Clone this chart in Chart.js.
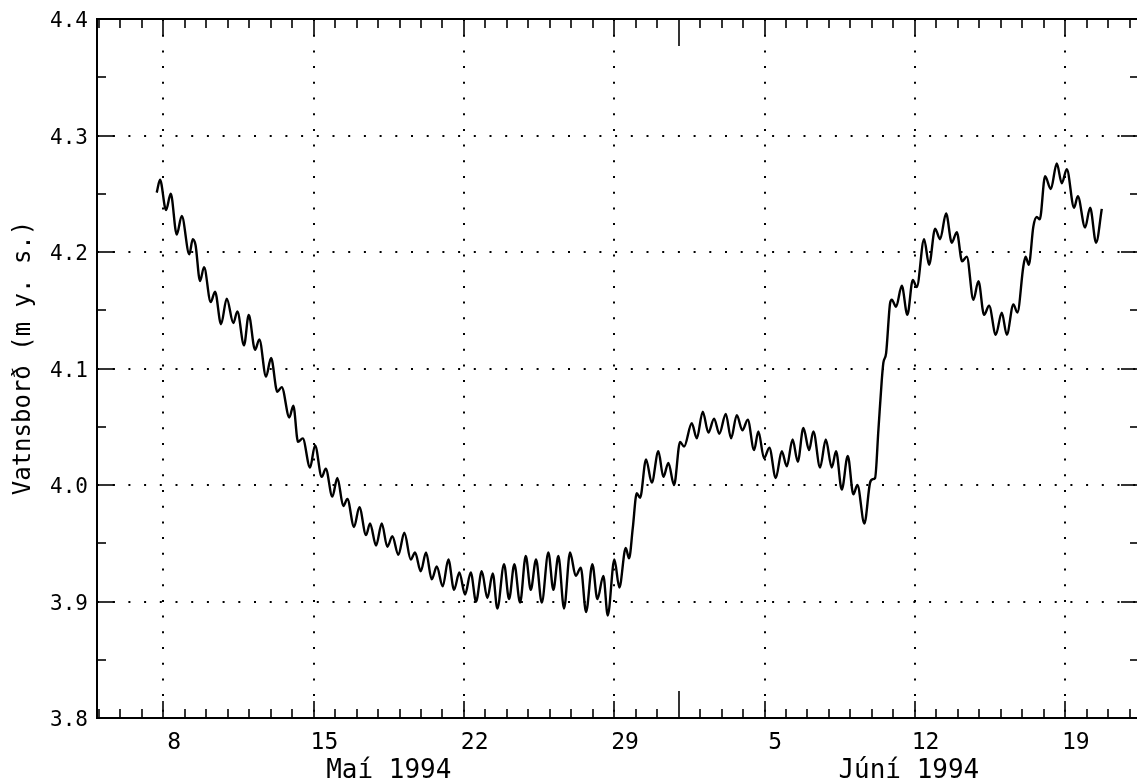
<!DOCTYPE html>
<html><head><meta charset="utf-8">
<script src="https://cdn.jsdelivr.net/npm/chart.js@4.4.1/dist/chart.umd.min.js"></script>
<style>
html,body{margin:0;padding:0;background:#fff;overflow:hidden;width:1137px;height:781px}
#wrap{position:absolute;left:0;top:0;width:1150px;height:781px}
</style>
</head><body><div id="wrap"><canvas id="c" width="1150" height="781"></canvas></div>
<script>
// Time in days since 1994-05-05 00:00, water level in m a.s.l.
const sampleDays = [
2.692,2.846,3.125,3.344,3.624,3.857,4.211,4.369,4.499,4.709,4.895,5.207,5.408,5.687,5.953,6.260,6.446,6.758,6.977,7.271,
7.471,7.783,8.016,8.309,8.514,8.868,9.054,9.273,9.492,9.832,10.065,10.377,10.564,10.871,11.104,11.383,11.570,11.882,12.129,12.441,
12.627,12.907,13.172,13.433,13.666,13.945,14.224,14.523,14.723,14.989,15.235,15.501,15.734,16.013,16.274,16.540,16.786,17.052,17.317,17.564,
17.830,18.090,18.342,18.556,18.868,19.101,19.348,19.614,19.879,20.112,20.359,20.624,20.932,21.165,21.397,21.663,21.942,22.208,22.441,22.688,
22.981,23.214,23.493,23.698,24.006,24.238,24.536,24.691,24.863,25.049,25.203,25.482,25.748,26.055,26.288,26.521,26.786,27.066,27.252,27.611,
27.844,28.123,28.384,28.650,28.896,29.194,29.441,29.707,29.968,30.219,30.512,30.713,30.978,31.225,31.523,31.803,32.036,32.306,32.548,32.809,
33.074,33.274,33.586,33.852,34.131,34.331,34.597,34.877,35.137,35.324,35.650,35.915,36.041,36.148,36.302,36.460,36.535,36.661,36.847,36.926,
37.126,37.392,37.653,37.904,38.091,38.431,38.664,38.944,39.176,39.456,39.721,39.954,40.201,40.419,40.727,40.962,41.225,41.458,41.770,42.049,
42.282,42.590,42.776,43.056,43.158,43.307,43.521,43.680,43.819,44.066,44.332,44.611,44.844,45.077,45.417,45.589,45.930,46.163,46.442,46.707
];
const waterLevel = [
4.251,4.262,4.236,4.250,4.215,4.231,4.198,4.211,4.206,4.175,4.187,4.157,4.166,4.138,4.160,4.139,4.149,4.120,4.146,4.116,
4.125,4.093,4.109,4.080,4.084,4.058,4.068,4.037,4.040,4.015,4.034,4.007,4.014,3.990,4.006,3.982,3.988,3.964,3.981,3.957,
3.967,3.948,3.967,3.947,3.956,3.940,3.959,3.936,3.942,3.926,3.942,3.919,3.930,3.913,3.936,3.910,3.925,3.906,3.925,3.900,
3.926,3.903,3.924,3.894,3.932,3.902,3.932,3.899,3.939,3.910,3.936,3.899,3.942,3.910,3.939,3.894,3.942,3.922,3.929,3.891,
3.932,3.902,3.922,3.888,3.936,3.912,3.946,3.937,3.963,3.993,3.989,4.022,4.002,4.029,4.007,4.019,4.000,4.037,4.033,4.053,
4.040,4.063,4.045,4.057,4.044,4.061,4.040,4.060,4.047,4.056,4.030,4.046,4.023,4.032,4.006,4.029,4.016,4.039,4.020,4.049,
4.030,4.046,4.015,4.039,4.015,4.029,3.996,4.025,3.992,4.000,3.967,4.002,4.005,4.006,4.047,4.090,4.105,4.113,4.156,4.159,
4.153,4.171,4.146,4.176,4.170,4.211,4.189,4.220,4.211,4.233,4.208,4.217,4.192,4.196,4.159,4.175,4.146,4.154,4.129,4.148,
4.129,4.155,4.148,4.188,4.196,4.189,4.222,4.230,4.228,4.265,4.254,4.276,4.259,4.271,4.238,4.248,4.221,4.238,4.208,4.237
];

const xAxisMin = -0.09, xAxisMax = 48.44;
const yAxisMin = 3.8, yAxisMax = 4.4;
const weekDays = [3, 10, 17, 24, 31, 38, 45];
const weekLabels = ['8', '15', '22', '29', '5', '12', '19'];
const monthStartDays = [0, 27];
const monthLabels = ['Maí 1994', 'Júní 1994'];
const yGridValues = [3.9, 4.0, 4.1, 4.2, 4.3];
const yLabelValues = [3.8, 3.9, 4.0, 4.1, 4.2, 4.3, 4.4];
const yMinorTickValues = [3.85, 3.95, 4.05, 4.15, 4.25, 4.35];
const yTitle = 'Vatnsborð (m y. s.)';

const FONT = '"DejaVu Sans Mono", monospace';

const framePlugin = {
  id: 'frame',
  afterDraw(chart) {
    const {ctx, chartArea: a, scales: {x, y}} = chart;
    ctx.save();
    ctx.strokeStyle = '#000';
    ctx.fillStyle = '#000';
    const seg = (x1, y1, x2, y2) => { ctx.beginPath(); ctx.moveTo(x1, y1); ctx.lineTo(x2, y2); ctx.stroke(); };
    // frame
    ctx.lineWidth = 2;
    ctx.strokeRect(a.left, a.top, a.right - a.left, a.bottom - a.top);
    // x ticks (daily, weekly, month)
    ctx.lineWidth = 1.6;
    for (let d = Math.ceil(xAxisMin); d <= Math.floor(xAxisMax); d++) {
      const px = Math.round(x.getPixelForValue(d));
      let len = weekDays.includes(d) ? 17 : 9;
      if (monthStartDays.includes(d) && d > 0) len = 27;
      seg(px, a.bottom, px, a.bottom - len);
      seg(px, a.top, px, a.top + len);
    }
    // y ticks
    for (const v of yLabelValues) {
      const py = Math.round(y.getPixelForValue(v));
      seg(a.left, py, a.left + 18, py);
      seg(a.right, py, a.right - 18, py);
    }
    for (const v of yMinorTickValues) {
      const py = Math.round(y.getPixelForValue(v));
      seg(a.left, py, a.left + 9, py);
      seg(a.right, py, a.right - 9, py);
    }
    // x labels
    ctx.font = '23px ' + FONT;
    ctx.textAlign = 'center';
    ctx.textBaseline = 'alphabetic';
    weekDays.forEach((d, i) => ctx.fillText(weekLabels[i], x.getPixelForValue(d + 0.5), 749));
    ctx.font = '26px ' + FONT;
    monthLabels.forEach((lab, i) => {
      const s = monthStartDays[i];
      const e = i + 1 < monthStartDays.length ? monthStartDays[i + 1] : xAxisMax;
      ctx.fillText(lab, x.getPixelForValue((s + e) / 2), 778);
    });
    // y labels
    ctx.font = '21px ' + FONT;
    ctx.textAlign = 'right';
    for (const v of yLabelValues) {
      ctx.fillText(v.toFixed(1), 88, y.getPixelForValue(v) + 8);
    }
    // y title
    ctx.font = '24px ' + FONT;
    ctx.translate(30, 358);
    ctx.rotate(-Math.PI / 2);
    ctx.textAlign = 'center';
    ctx.fillText(yTitle, 0, 0);
    ctx.restore();
  }
};

const points = sampleDays.map((d, i) => ({x: d, y: waterLevel[i]}));

new Chart(document.getElementById('c').getContext('2d'), {
  type: 'line',
  data: {datasets: [{
    data: points, borderColor: '#000', borderWidth: 2.4, pointRadius: 0,
    cubicInterpolationMode: 'monotone', fill: false
  }]},
  options: {
    responsive: false, animation: false, devicePixelRatio: 1,
    layout: {padding: {top: 19, right: 11, left: 0, bottom: 0}},
    plugins: {legend: {display: false}, tooltip: {enabled: false}},
    scales: {
      x: {
        type: 'linear', min: xAxisMin, max: xAxisMax,
        afterBuildTicks: s => { s.ticks = weekDays.map(v => ({value: v})); },
        afterFit: s => { s.height = 63; },
        ticks: {display: false},
        grid: {color: '#000', lineWidth: 2, drawTicks: false},
        border: {display: false, dash: [2, 13.7]}
      },
      y: {
        type: 'linear', min: yAxisMin, max: yAxisMax,
        afterBuildTicks: s => { s.ticks = yGridValues.map(v => ({value: v})); },
        afterFit: s => { s.width = 97; },
        ticks: {display: false},
        grid: {color: '#000', lineWidth: 2, drawTicks: false},
        border: {display: false, dash: [2, 13.7]}
      }
    }
  },
  plugins: [framePlugin]
});
</script>
</body></html>
